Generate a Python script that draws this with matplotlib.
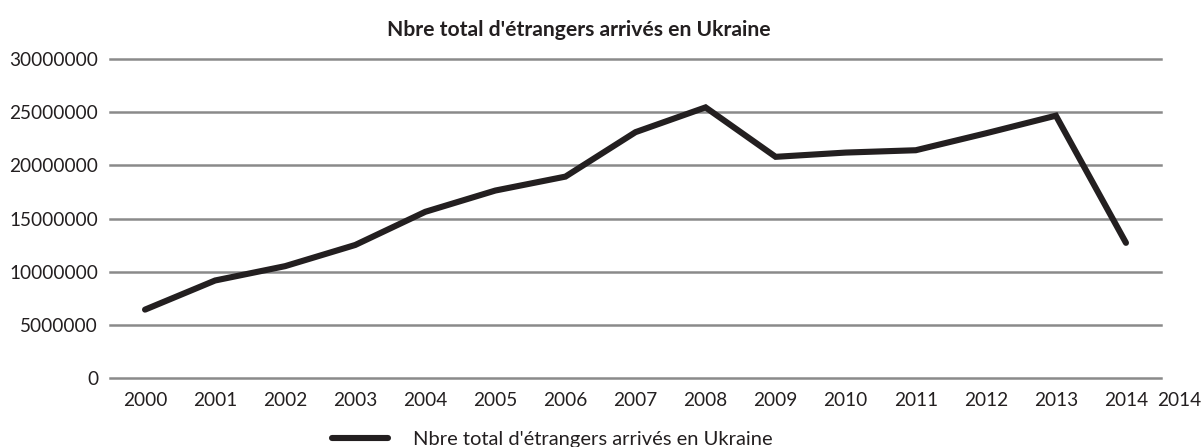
import matplotlib
matplotlib.use("Agg")
import matplotlib.pyplot as plt
import numpy as np

plt.rcParams['font.family'] = ['Lato', 'DejaVu Sans']

years = ['2000', '2001', '2002', '2003', '2004', '2005', '2006', '2007',
         '2008', '2009', '2010', '2011', '2012', '2013', '2014']
arrivals = [6430000, 9170000, 10520000, 12510000, 15630000, 17630000, 18940000,
            23120000, 25450000, 20800000, 21200000, 21420000, 23010000,
            24670000, 12710000]
yticks = [0, 5000000, 10000000, 15000000, 20000000, 25000000, 30000000]
extra_label = '2014'
title = "Nbre total d'étrangers arrivés en Ukraine"

fig = plt.figure(figsize=(12.03, 4.47), dpi=100)
ax = fig.add_axes([110 / 1203, 1 - 378 / 447, 1051 / 1203, 319 / 447])

x = np.arange(len(years))
line, = ax.plot(x, arrivals, color='#231f20', lw=4.4, solid_capstyle='round',
                solid_joinstyle='miter', zorder=3,
                label="Nbre total d'étrangers arrivés en Ukraine")

ax.set_xlim(-0.5, len(years) - 0.5)
ax.set_ylim(0, 30000000)
ax.set_xticks(x)
ax.set_xticklabels(years)
ax.set_yticks(yticks)
ax.set_yticklabels([str(v) for v in yticks])
ax.tick_params(axis='both', length=0, labelsize=13.7, colors='#231f20')
ax.tick_params(axis='y', pad=8.5)
ax.tick_params(axis='x', pad=10)

for s in ax.spines.values():
    s.set_visible(False)
ax.yaxis.grid(True, color='#8a8a8a', lw=1.8)
for gl in ax.get_ygridlines():
    gl.set_clip_on(False)
ax.set_axisbelow(True)

# stray extra year label at the right end of the axis
ax.annotate(extra_label, xy=(1.0, 0), xycoords='axes fraction',
            xytext=(-3, -10), textcoords='offset points',
            ha='left', va='top', fontsize=13.7, color='#231f20')

fig.text(0.481, 1 - 30 / 447, title, ha='center', va='center',
         fontsize=15.2, fontweight='bold', color='#231f20')

fig.legend(handles=[line], loc='center', bbox_to_anchor=(0.459, 1 - 439 / 447),
           frameon=False, fontsize=14.5, handlelength=2.8, handletextpad=1.2,
           labelcolor='#231f20')

fig.savefig('out.png', dpi=100)
